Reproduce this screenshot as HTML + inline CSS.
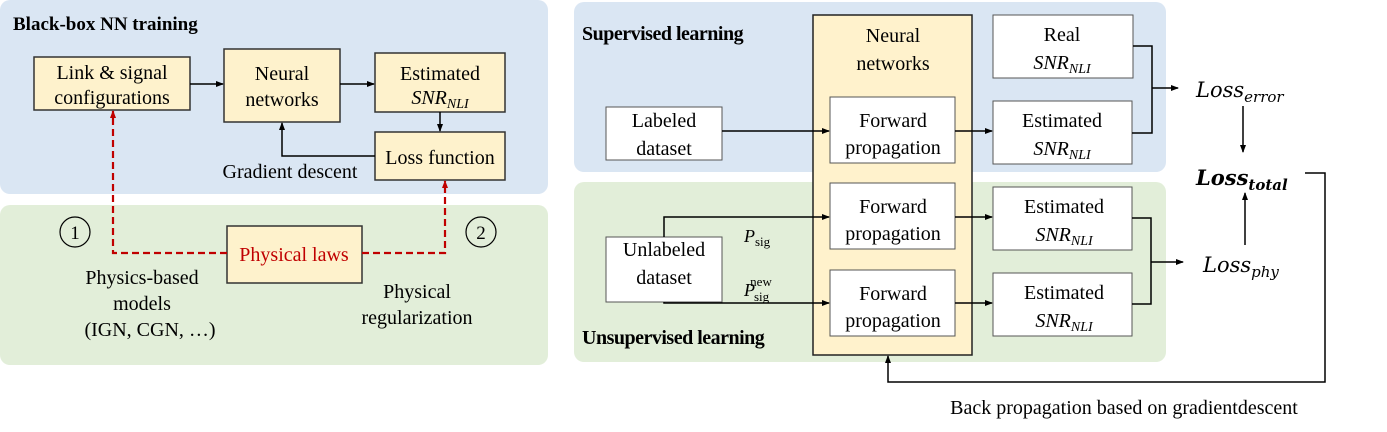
<!DOCTYPE html>
<html><head><meta charset="utf-8"><style>
html,body{margin:0;padding:0;background:#fff;}
text{font-family:"Liberation Serif",serif;}
text.m{font-family:"DejaVu Serif",serif;}
</style></head><body>
<svg width="1387" height="432" viewBox="0 0 1387 432" xmlns="http://www.w3.org/2000/svg" style="display:block">
<defs>
<marker id="a" markerWidth="8" markerHeight="8" refX="7" refY="4" orient="auto" markerUnits="userSpaceOnUse"><path d="M0,1 L8,4 L0,7 z" fill="#000"/></marker>
<marker id="r" markerWidth="8" markerHeight="8" refX="7" refY="4" orient="auto" markerUnits="userSpaceOnUse"><path d="M0,1 L8,4 L0,7 z" fill="#c00000"/></marker>
</defs>
<rect x="0" y="0" width="548" height="194" rx="10" fill="#dae6f3"/>
<rect x="0" y="205" width="548" height="160" rx="10" fill="#e2eed9"/>
<text x="13" y="30" font-size="19" font-weight="bold">Black-box NN training</text>
<g fill="#fef2cc" stroke="#333" stroke-width="1.5">
<rect x="34" y="57" width="156" height="53"/>
<rect x="224" y="49" width="116" height="73"/>
<rect x="375" y="53" width="130" height="59"/>
<rect x="375" y="132" width="130" height="48"/>
<rect x="227" y="226" width="135" height="57"/>
</g>
<text x="112" y="79" font-size="20" text-anchor="middle" style="font-family:'Liberation Serif',serif">Link &amp; signal</text>
<text x="112" y="104" font-size="20" text-anchor="middle" style="font-family:'Liberation Serif',serif">configurations</text>
<text x="282" y="80" font-size="20" text-anchor="middle" style="font-family:'Liberation Serif',serif">Neural</text>
<text x="282" y="106" font-size="20" text-anchor="middle" style="font-family:'Liberation Serif',serif">networks</text>
<text x="440" y="80" font-size="20" text-anchor="middle" style="font-family:'Liberation Serif',serif">Estimated</text>
<text x="440" y="104" font-size="20" text-anchor="middle" font-style="italic" style="font-family:'Liberation Serif',serif">SNR<tspan font-size="14" dy="4">NLI</tspan></text>
<text x="440" y="164" font-size="20" text-anchor="middle" style="font-family:'Liberation Serif',serif">Loss function</text>
<text x="294" y="261" font-size="20" text-anchor="middle" fill="#c00000" style="font-family:'Liberation Serif',serif">Physical laws</text>
<text x="290" y="178" font-size="20" text-anchor="middle" style="font-family:'Liberation Serif',serif">Gradient descent</text>
<text x="142" y="284" font-size="20" text-anchor="middle" style="font-family:'Liberation Serif',serif">Physics-based</text>
<text x="142" y="310" font-size="20" text-anchor="middle" style="font-family:'Liberation Serif',serif">models</text>
<text x="150" y="336" font-size="20" text-anchor="middle" style="font-family:'Liberation Serif',serif">(IGN, CGN, …)</text>
<text x="417" y="298" font-size="20" text-anchor="middle" style="font-family:'Liberation Serif',serif">Physical</text>
<text x="417" y="324" font-size="20" text-anchor="middle" style="font-family:'Liberation Serif',serif">regularization</text>
<circle cx="75" cy="232" r="15" fill="none" stroke="#000" stroke-width="1.2"/>
<text x="75" y="239" font-size="19" text-anchor="middle">1</text>
<circle cx="481" cy="232" r="15" fill="none" stroke="#000" stroke-width="1.2"/>
<text x="481" y="239" font-size="19" text-anchor="middle">2</text>
<g stroke="#000" stroke-width="1.5" fill="none">
<line x1="190" y1="84" x2="223" y2="84" marker-end="url(#a)"/>
<line x1="340" y1="84" x2="374" y2="84" marker-end="url(#a)"/>
<line x1="440" y1="112" x2="440" y2="131" marker-end="url(#a)"/>
<polyline points="375,156 282,156 282,123" marker-end="url(#a)"/>
</g>
<g stroke="#c00000" stroke-width="2.2" fill="none" stroke-dasharray="7,4">
<polyline points="227,253 113,253 113,111" marker-end="url(#r)"/>
<polyline points="362,253 445,253 445,181" marker-end="url(#r)"/>
</g>
<rect x="574" y="2" width="592" height="170" rx="10" fill="#dae6f3"/>
<rect x="574" y="182" width="592" height="180" rx="10" fill="#e2eed9"/>
<text x="582" y="40" font-size="20" font-weight="bold" letter-spacing="-0.5">Supervised learning</text>
<text x="582" y="344" font-size="20" font-weight="bold" letter-spacing="-0.5">Unsupervised learning</text>
<rect x="813" y="15" width="159" height="340" fill="#fff2cc" stroke="#222" stroke-width="1.5"/>
<g fill="#fff" stroke="#555" stroke-width="1">
<rect x="830" y="97" width="125" height="66"/>
<rect x="830" y="183" width="125" height="66"/>
<rect x="830" y="270" width="125" height="66"/>
<rect x="993" y="15" width="140" height="63"/>
<rect x="993" y="101" width="139" height="63"/>
<rect x="993" y="187" width="139" height="63"/>
<rect x="993" y="273" width="139" height="63"/>
<rect x="606" y="107" width="116" height="53"/>
<rect x="606" y="237" width="116" height="65"/>
</g>
<text x="893" y="42" font-size="20" text-anchor="middle" style="font-family:'Liberation Serif',serif">Neural</text>
<text x="893" y="70" font-size="20" text-anchor="middle" style="font-family:'Liberation Serif',serif">networks</text>
<text x="893" y="127" font-size="20" text-anchor="middle" style="font-family:'Liberation Serif',serif">Forward</text>
<text x="893" y="154" font-size="20" text-anchor="middle" style="font-family:'Liberation Serif',serif">propagation</text>
<text x="893" y="213" font-size="20" text-anchor="middle" style="font-family:'Liberation Serif',serif">Forward</text>
<text x="893" y="240" font-size="20" text-anchor="middle" style="font-family:'Liberation Serif',serif">propagation</text>
<text x="893" y="300" font-size="20" text-anchor="middle" style="font-family:'Liberation Serif',serif">Forward</text>
<text x="893" y="327" font-size="20" text-anchor="middle" style="font-family:'Liberation Serif',serif">propagation</text>
<text x="664" y="127" font-size="20" text-anchor="middle" style="font-family:'Liberation Serif',serif">Labeled</text>
<text x="664" y="155" font-size="20" text-anchor="middle" style="font-family:'Liberation Serif',serif">dataset</text>
<text x="664" y="256" font-size="20" text-anchor="middle" style="font-family:'Liberation Serif',serif">Unlabeled</text>
<text x="664" y="284" font-size="20" text-anchor="middle" style="font-family:'Liberation Serif',serif">dataset</text>
<text x="1062" y="41" font-size="20" text-anchor="middle" style="font-family:'Liberation Serif',serif">Real</text>
<text x="1062" y="127" font-size="20" text-anchor="middle" style="font-family:'Liberation Serif',serif">Estimated</text>
<text x="1064" y="213" font-size="20" text-anchor="middle" style="font-family:'Liberation Serif',serif">Estimated</text>
<text x="1064" y="299" font-size="20" text-anchor="middle" style="font-family:'Liberation Serif',serif">Estimated</text>
<text x="1062" y="69" font-size="20" text-anchor="middle" font-style="italic" style="font-family:'Liberation Serif',serif">SNR<tspan font-size="14" dy="4">NLI</tspan></text>
<text x="1062" y="155" font-size="20" text-anchor="middle" font-style="italic" style="font-family:'Liberation Serif',serif">SNR<tspan font-size="14" dy="4">NLI</tspan></text>
<text x="1064" y="241" font-size="20" text-anchor="middle" font-style="italic" style="font-family:'Liberation Serif',serif">SNR<tspan font-size="14" dy="4">NLI</tspan></text>
<text x="1064" y="327" font-size="20" text-anchor="middle" font-style="italic" style="font-family:'Liberation Serif',serif">SNR<tspan font-size="14" dy="4">NLI</tspan></text>
<text x="744" y="242" font-size="18" font-style="italic">P<tspan font-size="13" font-style="normal" dy="4">sig</tspan></text>
<text x="744" y="296" font-size="18" font-style="italic">P<tspan font-size="13" font-style="normal" dx="-1" dy="5">sig</tspan><tspan font-size="13" font-style="normal" dx="-19" dy="-15">new</tspan></text>
<text class="m" x="1196" y="97" font-size="21" font-style="italic">Loss<tspan font-size="15" dy="5">error</tspan></text>
<text class="m" x="1196" y="185" font-size="21" font-style="italic" font-weight="bold">Loss<tspan font-size="15" dy="5">total</tspan></text>
<text class="m" x="1203" y="272" font-size="21" font-style="italic">Loss<tspan font-size="15" dy="5">phy</tspan></text>
<g stroke="#000" stroke-width="1.5" fill="none">
<line x1="722" y1="131" x2="829" y2="131" marker-end="url(#a)"/>
<line x1="955" y1="131" x2="992" y2="131" marker-end="url(#a)"/>
<line x1="955" y1="217" x2="992" y2="217" marker-end="url(#a)"/>
<line x1="955" y1="303" x2="992" y2="303" marker-end="url(#a)"/>
<polyline points="664,237 664,217 829,217" marker-end="url(#a)"/>
<polyline points="664,302 664,303 829,303" marker-end="url(#a)"/>
<polyline points="1133,46 1152,46 1152,133 1132,133"/>
<line x1="1152" y1="88" x2="1178" y2="88" marker-end="url(#a)"/>
<polyline points="1132,218 1151,218 1151,304 1132,304"/>
<line x1="1151" y1="262" x2="1183" y2="262" marker-end="url(#a)"/>
<line x1="1243" y1="106" x2="1243" y2="152" marker-end="url(#a)"/>
<line x1="1245" y1="245" x2="1245" y2="193" marker-end="url(#a)"/>
<polyline points="1305,173 1325,173 1325,382 888,382 888,356" marker-end="url(#a)"/>
</g>
<text x="1124" y="414" font-size="20" text-anchor="middle">Back propagation based on gradientdescent</text>
</svg>
</body></html>
